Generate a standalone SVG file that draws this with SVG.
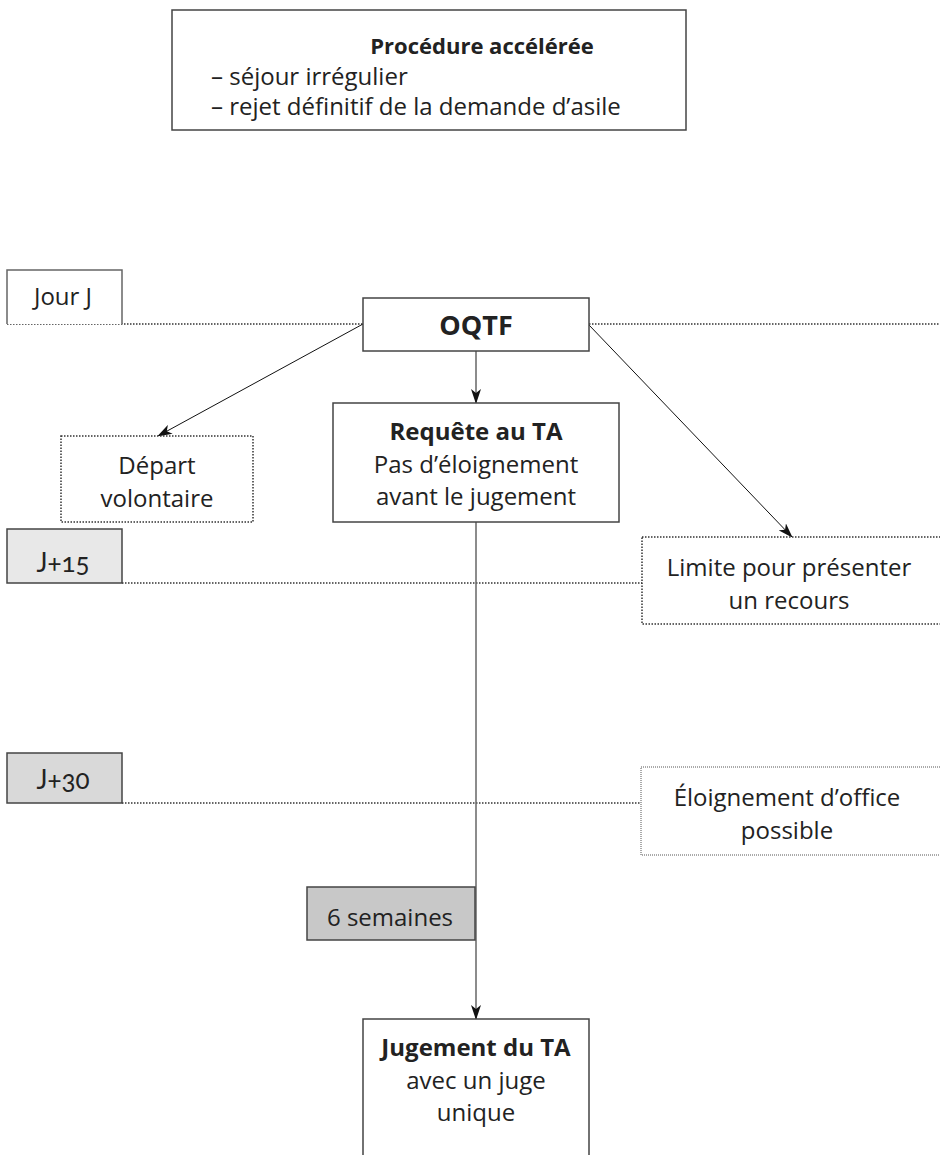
<svg xmlns="http://www.w3.org/2000/svg" width="940" height="1155" viewBox="0 0 940 1155">
  <style>
    text { font-family: "Open Sans", Lato, "DejaVu Sans", sans-serif; fill: #222; font-size: 24px; }
    .b { font-weight: bold; }
    .c { text-anchor: middle; }
    .title { font-size: 22px; }
    .big { font-size: 27px; }
    .num { font-family: Lato, "Open Sans", sans-serif; font-variant-numeric: oldstyle-nums; font-size: 26px; }
    .box { fill: #fff; stroke: #444; stroke-width: 1.5; }
    .dotbox { fill: #fff; stroke: #333; stroke-width: 1.5; stroke-dasharray: 1.5 1.5; }
    .finedot { fill: #fff; stroke: #555; stroke-width: 1; stroke-dasharray: 1 1; }
    .tl { fill: none; stroke: #333; stroke-width: 1.5; stroke-dasharray: 1.5 1.5; }
    .arrow { fill: none; stroke: #111; stroke-width: 1; marker-end: url(#head); }
    .stem { fill: none; stroke: #666; stroke-width: 1.5; marker-end: url(#head); }
  </style>
  <defs>
    <marker id="head" viewBox="0 0 15 10" refX="14" refY="5" markerWidth="15" markerHeight="10" markerUnits="userSpaceOnUse" orient="auto">
      <path d="M0,0 L15,5 L0,10 L4,5 z" fill="#111"/>
    </marker>
  </defs>

  <rect width="940" height="1155" fill="#fff"/>

  <!-- header box -->
  <g id="header">
    <rect class="box" x="172" y="10" width="514" height="120"/>
    <text class="b c title" x="482" y="54">Procédure accélérée</text>
    <text x="211" y="85">– séjour irrégulier</text>
    <text x="211" y="115">– rejet définitif de la demande d’asile</text>
  </g>

  <!-- time lines -->
  <g id="timelines">
    <line class="tl" x1="7" y1="324" x2="363" y2="324"/>
    <line class="tl" x1="589" y1="324" x2="940" y2="324"/>
    <line class="tl" x1="122" y1="583" x2="642" y2="583"/>
    <line class="tl" x1="122" y1="803" x2="641" y2="803"/>
  </g>

  <!-- day markers -->
  <g id="jour-j">
    <path d="M7,324 V270 H122 V324" fill="#fff" stroke="#666" stroke-width="1.5"/>
    <text class="c" x="63" y="305">Jour J</text>
  </g>
  <g id="j15">
    <rect x="7" y="529" width="115" height="54" fill="#e8e8e8" stroke="#444" stroke-width="1.5"/>
    <text class="c num" x="63" y="572">J+15</text>
  </g>
  <g id="j30">
    <rect x="7" y="753" width="115" height="50" fill="#d9d9d9" stroke="#444" stroke-width="1.5"/>
    <text class="c num" x="63" y="789">J+30</text>
  </g>

  <!-- connectors -->
  <g id="connectors">
    <line class="stem" x1="476" y1="351" x2="476" y2="403"/>
    <line class="arrow" x1="363" y1="324" x2="158" y2="436"/>
    <line class="arrow" x1="589" y1="325" x2="792" y2="537"/>
    <line class="stem" x1="476" y1="522" x2="476" y2="1019"/>
  </g>

  <g id="oqtf">
    <rect class="box" x="363" y="298" width="226" height="53"/>
    <text class="b c big" x="476" y="335">OQTF</text>
  </g>

  <g id="depart">
    <rect class="dotbox" x="61" y="436" width="192" height="86"/>
    <text class="c" x="157" y="474">Départ</text>
    <text class="c" x="157" y="507">volontaire</text>
  </g>

  <g id="requete">
    <rect class="box" x="333" y="403" width="286" height="119"/>
    <text class="b c" x="476" y="440">Requête au TA</text>
    <text class="c" x="476" y="473">Pas d’éloignement</text>
    <text class="c" x="476" y="505">avant le jugement</text>
  </g>

  <g id="limite">
    <rect class="dotbox" x="642" y="537" width="310" height="87"/>
    <text class="c" x="789" y="576">Limite pour présenter</text>
    <text class="c" x="789" y="609">un recours</text>
  </g>

  <g id="eloignement">
    <rect class="finedot" x="641" y="767" width="310" height="88"/>
    <text class="c" x="787" y="806">Éloignement d’office</text>
    <text class="c" x="787" y="839">possible</text>
  </g>

  <g id="six-semaines">
    <rect x="307" y="887" width="168" height="53" fill="#c8c8c8" stroke="#444" stroke-width="1.5"/>
    <text class="c" x="390" y="926">6 semaines</text>
  </g>

  <g id="jugement">
    <path d="M363,1160 V1019 H589 V1160" fill="#fff" stroke="#444" stroke-width="1.5"/>
    <text class="b c" x="476" y="1056">Jugement du TA</text>
    <text class="c" x="476" y="1089">avec un juge</text>
    <text class="c" x="476" y="1121">unique</text>
  </g>
</svg>
